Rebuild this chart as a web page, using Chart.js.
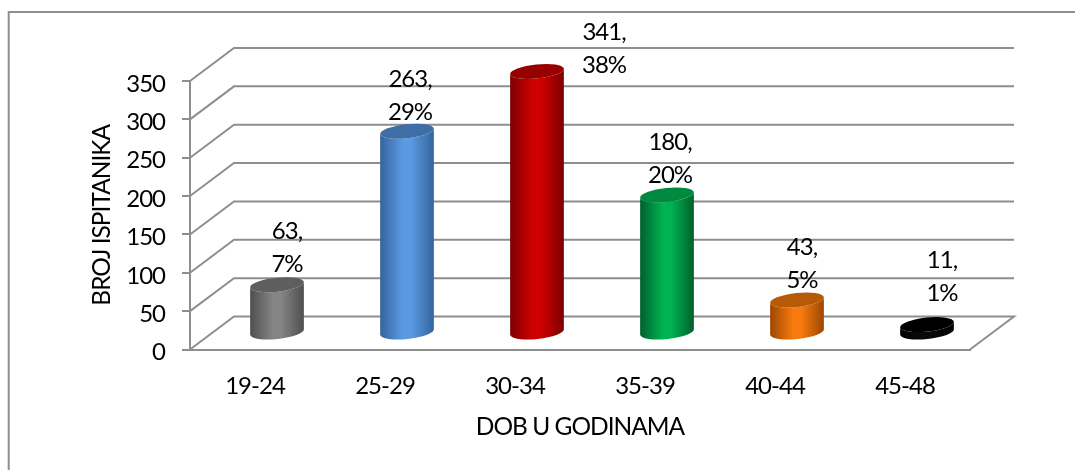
<!DOCTYPE html>
<html>
<head>
<meta charset="utf-8">
<style>html,body{margin:0;padding:0;background:#fff}#wrap{position:relative;width:1075px;height:470px}canvas{filter:blur(0.4px)}</style>
<script src="https://cdn.jsdelivr.net/npm/chart.js@4"></script>
</head>
<body>
<div id="wrap"><canvas id="c" width="1075" height="470"></canvas></div>
<script>
const categories = ["19-24", "25-29", "30-34", "35-39", "40-44", "45-48"];
const counts = [63, 263, 341, 180, 43, 11];
const percents = ["7%", "29%", "38%", "20%", "5%", "1%"];
const yTicks = [0, 50, 100, 150, 200, 250, 300, 350];
const bodyEdge = ["#4e4e4e", "#33659c", "#7c0000", "#005f2c", "#9c4600", "#000000"];
const bodyMid  = ["#848484", "#5b99e2", "#cf0000", "#00b252", "#f67a0e", "#0a0a0a"];
const capFill  = ["#5e5e5e", "#3f6ea6", "#980000", "#008a40", "#b65a08", "#000000"];
const labelShiftX = [10, 3, 67, 3, 5, 15];
const labelShiftY = [0, 1, 14, 0, 0, -11];

const LINE = "#8e8e8e", FONT = "Lato", FS = 24, TITLE_FS = 24.5, INK = "#000000";
const DX = 44, DY = -33;

class CylinderController extends Chart.BarController {
  draw() {
    const ctx = this.chart.ctx, ds = this.getDataset();
    const rot = -6 * Math.PI / 180;
    this.getMeta().data.forEach((el, i) => {
      const rx = el.width / 2, ry = 7;
      const cx = el.x + DX / 2;
      const top = el.y + DY / 2, bot = el.base + DY / 2;
      const vx = rx * Math.cos(rot), vy = rx * Math.sin(rot);
      const g = ctx.createLinearGradient(cx - rx, 0, cx + rx, 0);
      g.addColorStop(0, ds.edgeColors[i]);
      g.addColorStop(0.42, ds.midColors[i]);
      g.addColorStop(0.58, ds.midColors[i]);
      g.addColorStop(1, ds.edgeColors[i]);
      ctx.save();
      ctx.beginPath();
      ctx.moveTo(cx + vx, top + vy);
      ctx.lineTo(cx + vx, bot + vy);
      ctx.ellipse(cx, bot, rx, ry, rot, 0, Math.PI, false);
      ctx.lineTo(cx - vx, top - vy);
      ctx.ellipse(cx, top, rx, ry, rot, Math.PI, 0, true);
      ctx.closePath();
      ctx.fillStyle = g;
      ctx.fill();
      ctx.beginPath();
      ctx.ellipse(cx, top, rx, ry, rot, 0, Math.PI * 2);
      ctx.fillStyle = ds.backgroundColor[i];
      ctx.fill();
      ctx.restore();
    });
  }
}
CylinderController.id = "cylinder";
CylinderController.defaults = Chart.BarController.defaults;
CylinderController.overrides = Chart.BarController.overrides;
Chart.register(CylinderController);

const walls = {
  id: "walls",
  beforeDraw(chart) { chart.ctx.letterSpacing = "-1px"; },
  beforeDatasetsDraw(chart) {
    const ctx = chart.ctx, y = chart.scales.y, a = chart.chartArea;
    ctx.save();
    ctx.strokeStyle = LINE;
    ctx.lineWidth = 2;
    // outer frame: only top and left edges are in the picture
    ctx.beginPath();
    ctx.moveTo(8.7, 470); ctx.lineTo(8.7, 12); ctx.lineTo(1075, 12);
    ctx.stroke();
    yTicks.forEach(v => {
      const py = y.getPixelForValue(v);
      ctx.beginPath();
      ctx.moveTo(a.left, py);
      ctx.lineTo(a.left + DX, py + DY);
      ctx.lineTo(a.right + DX, py + DY);
      if (v === 0) ctx.lineTo(a.right, py);
      ctx.stroke();
    });
    ctx.restore();
  },
  afterDatasetsDraw(chart) {
    const ctx = chart.ctx, meta = chart.getDatasetMeta(0);
    ctx.save();
    ctx.fillStyle = INK;
    ctx.font = FS + "px " + FONT;
    ctx.textAlign = "center";
    ctx.textBaseline = "middle";
    meta.data.forEach((el, i) => {
      const x = el.x + DX / 2 + labelShiftX[i];
      const y = el.y + DY / 2 - 20 + labelShiftY[i];
      ctx.fillText(percents[i], x, y);
      ctx.fillText(counts[i] + ",", x, y - 33);
    });
    ctx.restore();
  }
};

new Chart(document.getElementById("c"), {
  type: "cylinder",
  data: {
    labels: categories,
    datasets: [{
      data: counts,
      clip: false,
      backgroundColor: capFill,
      edgeColors: bodyEdge,
      midColors: bodyMid,
      categoryPercentage: 1,
      barPercentage: 54 / 130
    }]
  },
  plugins: [walls],
  options: {
    responsive: false,
    animation: false,
    layout: { padding: { left: 0, right: 105, top: 81, bottom: 28 } },
    plugins: { legend: { display: false }, tooltip: { enabled: false } },
    scales: {
      x: {
        afterFit(s) { s.height = 92.5; },
        grid: { display: false },
        border: { color: LINE, width: 2 },
        ticks: { color: INK, font: { family: FONT, size: FS }, padding: 14, maxRotation: 0 },
        title: { display: true, text: "DOB U GODINAMA", color: INK, font: { family: FONT, size: TITLE_FS }, padding: { top: 0, bottom: 0 } }
      },
      y: {
        min: 0, max: 350,
        afterFit(s) { s.width = 190; },
        afterBuildTicks(s) { s.ticks = yTicks.map(v => ({ value: v })); },
        grid: { drawOnChartArea: false, drawTicks: true, tickLength: 8, color: LINE, lineWidth: 2 },
        border: { color: LINE, width: 2 },
        ticks: { color: INK, font: { family: FONT, size: FS }, padding: 17, labelOffset: 3 },
        title: { display: true, text: "BROJ ISPITANIKA", color: INK, font: { family: FONT, size: TITLE_FS }, padding: { top: 87, bottom: 0 } }
      }
    }
  }
});
</script>
</body>
</html>
